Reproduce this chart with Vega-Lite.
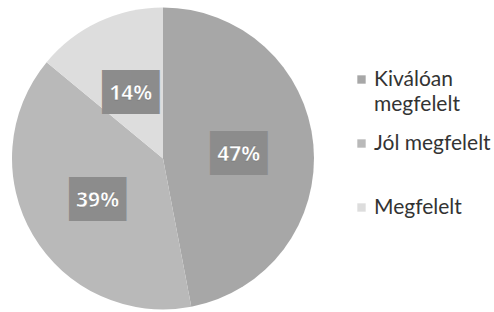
{
  "$schema": "https://vega.github.io/schema/vega-lite/v6.json",
  "width": 326,
  "height": 317,
  "padding": 0,
  "autosize": {"type": "pad"},
  "background": "white",
  "config": {
    "view": {"stroke": null},
    "style": {"guide-label": {"lineHeight": 25}}
  },
  "data": {
    "values": [
      {"kat": "Kiválóan megfelelt", "ertek": 47, "sorrend": 1, "cimke": "47%"},
      {"kat": "Jól megfelelt", "ertek": 39, "sorrend": 2, "cimke": "39%"},
      {"kat": "Megfelelt", "ertek": 14, "sorrend": 3, "cimke": "14%"}
    ]
  },
  "encoding": {
    "theta": {"field": "ertek", "type": "quantitative", "stack": true},
    "order": {"field": "sorrend", "type": "quantitative"}
  },
  "layer": [
    {
      "mark": {"type": "arc", "outerRadius": 151},
      "encoding": {
        "color": {
          "field": "kat",
          "type": "nominal",
          "sort": null,
          "scale": {
            "domain": ["Kiválóan megfelelt", "Jól megfelelt", "Megfelelt"],
            "range": ["#a7a7a7", "#b9b9b9", "#dddddd"]
          },
          "legend": {
            "title": null,
            "orient": "none",
            "legendX": 351,
            "legendY": 69,
            "padding": 0,
            "symbolType": "square",
            "symbolSize": 70,
            "symbolStrokeWidth": 0,
            "labelFont": "Lato",
            "labelFontSize": 21,
            "labelColor": "#333333",
            "labelOffset": 2,
            "labelLimit": 200,
            "rowPadding": 17,
            "labelExpr": "datum.label == 'Kiválóan megfelelt' ? ['Kiválóan', 'megfelelt'] : [datum.label, '']"
          }
        }
      }
    },
    {
      "mark": {"type": "text", "radius": 76, "dy": 4, "text": "██", "font": "DejaVu Sans", "fontSize": 37, "baseline": "middle", "align": "center"},
      "encoding": {"color": {"value": "#8c8c8c"}}
    },
    {
      "mark": {"type": "text", "radius": 76, "dy": 4, "font": "Open Sans", "fontSize": 21, "fontWeight": "bold", "baseline": "middle", "align": "center", "stroke": "#6a6a6a", "strokeWidth": 0.4},
      "encoding": {
        "text": {"field": "cimke", "type": "nominal"},
        "color": {"value": "white"}
      }
    }
  ]
}
